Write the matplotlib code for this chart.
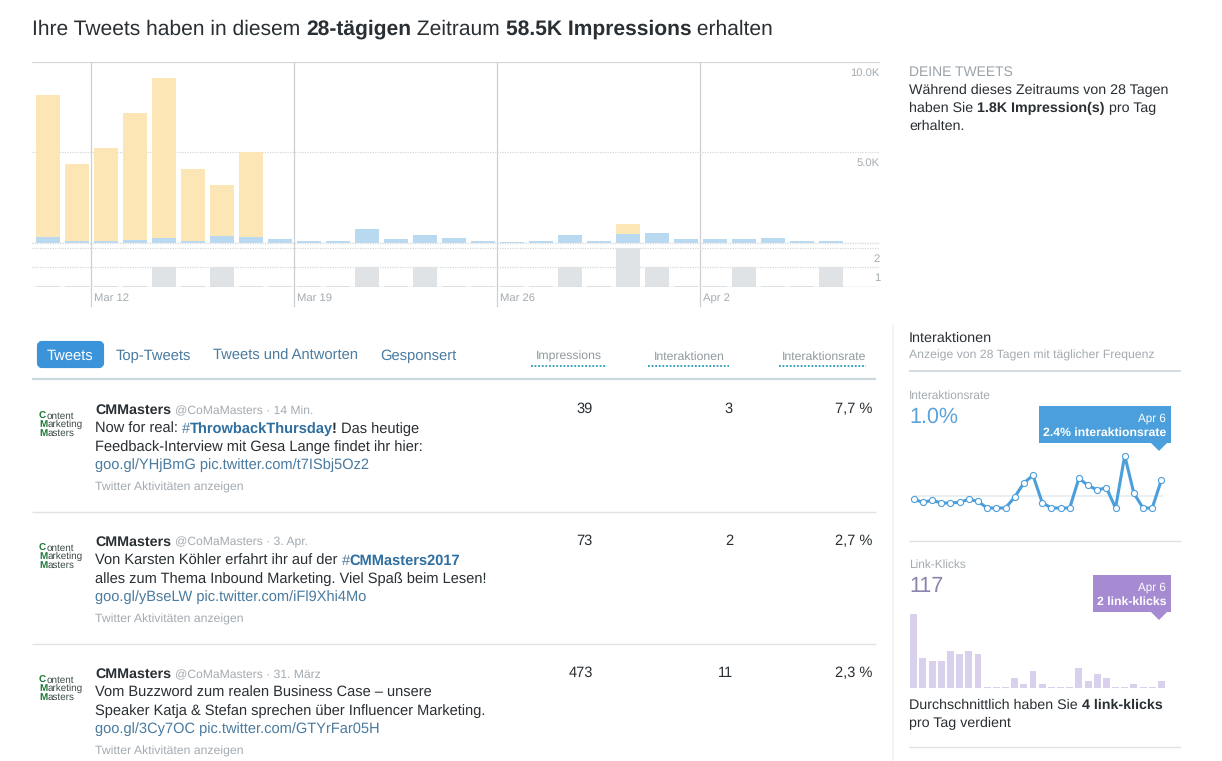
import numpy as np
import matplotlib
matplotlib.use("Agg")
import matplotlib.pyplot as plt
from matplotlib.patches import FancyBboxPatch, Polygon, Rectangle

plt.rcParams['font.family'] = ['Liberation Sans', 'DejaVu Sans']
plt.rcParams['text.hinting'] = 'none'
plt.rcParams['text.hinting_factor'] = 8

W, H = 1222, 761

# Impressions per day, in thousands (Mar 10 - Apr 6)
organic = [0.31, 0.07, 0.07, 0.13, 0.24, 0.07, 0.35, 0.30, 0.17, 0.11, 0.06, 0.74, 0.19, 0.41,
           0.24, 0.06, 0.05, 0.06, 0.39, 0.11, 0.46, 0.52, 0.19, 0.17, 0.17, 0.24, 0.11, 0.11]
paid = [7.88, 4.28, 5.17, 7.07, 8.89, 4.00, 2.83, 4.70, 0, 0, 0, 0, 0, 0,
        0, 0, 0, 0, 0, 0, 0.56, 0, 0, 0, 0, 0, 0, 0]
tweets_per_day = [0, 0, 0, 0, 1, 0, 1, 0, 0, 0, 0, 1, 0, 1,
                  0, 0, 0, 0, 1, 0, 2, 1, 0, 0, 1, 0, 0, 1]
week_labels = ['Mar 12', 'Mar 19', 'Mar 26', 'Apr 2']
week_pos = [1.5, 8.5, 15.5, 22.5]

engagement_rate = [0.74, 0.49, 0.66, 0.43, 0.43, 0.49, 0.74, 0.57, 0, 0, 0, 0.94, 2.14, 2.80,
                   0.46, 0, 0, 0, 2.54, 1.94, 1.54, 1.74, 0, 4.49, 1.26, 0, 0, 2.40]
link_clicks = [22, 9, 8, 8, 11, 10, 11, 10, 0, 0, 0, 3, 1, 5,
               1, 0, 0, 0, 6, 2, 4, 3, 0, 0, 1, 0, 0, 2]

handles = ['@CoMaMasters · 14 Min.', '@CoMaMasters · 3. Apr.', '@CoMaMasters · 31. März']
tweet_impr = ['39', '73', '473']
tweet_inter = ['3', '2', '11']
tweet_rate = ['7,7 %', '2,7 %', '2,3 %']

DARK = '#292f33'
GREY = '#a3abb1'
LINK = '#4a7ba0'
BLUE = '#4b9fdc'
PURPLE = '#a68ad2'

fig = plt.figure(figsize=(W / 100, H / 100), dpi=100, facecolor='white')
rend = fig.canvas.get_renderer()


def px_axes(x0, y0, x1, y1):
    ax = fig.add_axes([x0 / W, 1 - y1 / H, (x1 - x0) / W, (y1 - y0) / H])
    ax.patch.set_alpha(0)
    ax.axis('off')
    return ax


# overlay in pixel coordinates for the page furniture and the text
ov = px_axes(0, 0, W, H)
ov.set_xlim(0, W)
ov.set_ylim(H, 0)


def width(s, **kw):
    a = ov.text(0, 0, s + '.', **kw)
    b = ov.text(0, 0, '.', **kw)
    w = a.get_window_extent(rend).width - b.get_window_extent(rend).width
    a.remove()
    b.remove()
    return w


def runs(x, y, parts, size, color=DARK):
    # parts: plain string or (string, weight, colour)
    for p in parts:
        s, weight, col = (p, 'normal', color) if isinstance(p, str) else p
        ov.text(x, y, s, fontsize=size, fontweight=weight, color=col, va='baseline')
        x += width(s, fontsize=size, fontweight=weight)


def hline(y, x0, x1, color='#dfe3e6', lw=1.0):
    ov.plot([x0, x1], [y, y], color=color, lw=lw, solid_capstyle='butt')


# title
runs(32, 35, ['Ihre Tweets haben in diesem ', ('28-tägigen', 'bold', DARK), ' Zeitraum ',
              ('58.5K Impressions', 'bold', DARK), ' erhalten'], 15.13)

# main chart, x scale: 29 px per day, first bar centred at x=48
x = np.arange(28)
xlim = ((32 - 48) / 29, (880 - 48) / 29)
ax1 = px_axes(32, 62, 880, 242.5)
ax1.set_xlim(xlim)
ax1.set_ylim(0, 10)
ax1.bar(x, organic, width=0.83, color='#b9d9f1', zorder=3)
ax1.bar(x, paid, width=0.83, bottom=organic, color='#fce6b5', zorder=3)

ax2 = px_axes(32, 242.5, 880, 287.5)
ax2.set_xlim(xlim)
ax2.set_ylim(0, 2.25)
# zero days still show a thin stub
ax2.bar(x, np.maximum(tweets_per_day, 0.07), width=0.83, color='#dfe3e6', zorder=3)

for val, lab in [(10, '10.0K'), (5, '5.0K')]:
    ax1.axhline(val, color='#d5d8db', lw=0.9, ls=(0, (1, 1)) if val == 5 else '-', zorder=1)
    ax1.annotate(lab, (xlim[1], val), xytext=(0, -14), textcoords='offset pixels', ha='right',
                 va='baseline', fontsize=8.1, color=GREY)
ax1.axhline(0, color='#cfe2f0', lw=1.0, zorder=4)
for val in [1, 2]:
    ax2.axhline(val, color='#d5d8db', lw=0.9, ls=(0, (1, 1)), zorder=1)
    ax2.annotate(str(val), (xlim[1], val), xytext=(0, -14), textcoords='offset pixels', ha='right',
                 va='baseline', fontsize=8.1, color=GREY)
ax2.axhline(0, color='#d5d8db', lw=1.0, zorder=4)
ax2.axhline(2.25, color='#d5d8db', lw=0.9, ls=(0, (1, 1)), zorder=1)

# week separators run through both panels
for pos, lab in zip(week_pos, week_labels):
    px = 47 + 29 * pos
    ov.plot([px, px], [62, 306], color='#ccd0d4', lw=0.9, zorder=5)
    ov.text(px + 3.5, 301, lab, fontsize=8.1, color=GREY, va='baseline')

# right column, top
ov.text(909, 76, 'DEINE TWEETS', fontsize=10.0, color='#9aa3a9', va='baseline')
runs(909, 94, ['Während dieses Zeitraums von 28 Tagen'], 10.3)
runs(909, 112, ['haben Sie ', ('1.8K Impression(s)', 'bold', DARK), ' pro Tag'], 10.3)
runs(909, 130, ['erhalten.'], 10.3)

# tabs
ov.add_patch(FancyBboxPatch((39, 343), 63, 23, boxstyle='round,pad=0,rounding_size=3', mutation_aspect=1,
                            fc='#3b94d9', ec='#3b94d9', lw=3))
ov.text(70.5, 360, 'Tweets', fontsize=10.6, color='white', ha='center', va='baseline')
for tx, lab in [(116, 'Top-Tweets'), (213, 'Tweets und Antworten'), (380, 'Gesponsert')]:
    ov.text(tx, 360, lab, fontsize=10.6, color=LINK, va='baseline')
for cx, x0, x1, lab in [(569, 531, 607, 'Impressions'), (689.5, 648, 729, 'Interaktionen'),
                        (824, 779, 866, 'Interaktionsrate')]:
    ov.text(cx, 360, lab, fontsize=8.8, color='#8f999f', ha='center', va='baseline')
    ov.plot([x0, x1], [366, 366], color='#2a9ab5', lw=1.3, ls=(0, (1, 1)))
hline(379, 32, 876, color='#ccd6dd', lw=1.6)
hline(512, 32, 876)
hline(643.5, 32, 876)

# tweet rows
tweet_lines = [
    [['Now for real: ', ('#', 'normal', LINK), ('ThrowbackThursday', 'bold', '#2f6f9f'), ('!', 'bold', DARK),
      ' Das heutige'],
     ['Feedback-Interview mit Gesa Lange findet ihr hier:'],
     [('goo.gl/YHjBmG pic.twitter.com/t7ISbj5Oz2', 'normal', LINK)]],
    [['Von Karsten Köhler erfahrt ihr auf der ', ('#', 'normal', LINK), ('CMMasters2017', 'bold', '#2f6f9f')],
     ['alles zum Thema Inbound Marketing. Viel Spaß beim Lesen!'],
     [('goo.gl/yBseLW pic.twitter.com/iFl9Xhi4Mo', 'normal', LINK)]],
    [['Vom Buzzword zum realen Business Case – unsere'],
     ['Speaker Katja & Stefan sprechen über Influencer Marketing.'],
     [('goo.gl/3Cy7OC pic.twitter.com/GTYrFar05H', 'normal', LINK)]],
]
for i, y0 in enumerate([0, 132, 264]):
    runs(95, 414 + y0, [('CMMasters', 'bold', DARK)], 10.3)
    ov.text(175, 414 + y0, handles[i], fontsize=8.7, color=GREY, va='baseline')
    for j, parts in enumerate(tweet_lines[i]):
        runs(95, 433 + y0 + j * 18, parts, 10.5)
    ov.text(95, 491 + y0, 'Twitter Aktivitäten anzeigen', fontsize=8.85, color=GREY, va='baseline')
    ov.text(593, 413 + y0, tweet_impr[i], fontsize=10.5, color=DARK, ha='right', va='baseline')
    ov.text(733, 413 + y0, tweet_inter[i], fontsize=10.5, color=DARK, ha='right', va='baseline')
    ov.text(872, 413 + y0, tweet_rate[i], fontsize=10.5, color=DARK, ha='right', va='baseline')
    # logo
    for k, (first, rest) in enumerate([('C', 'ontent'), ('M', 'arketing'), ('M', 'asters')]):
        runs(39, 418.5 + y0 + k * 8.5, [(first, 'bold', '#1f7a3a'), (rest, 'normal', '#3a4a45')], 7.1)

# right column, lower
ov.plot([893, 893], [325, 761], color='#f0f2f3', lw=1.2)
ov.text(909, 342, 'Interaktionen', fontsize=10.4, color=DARK, va='baseline')
ov.text(909, 359, 'Anzeige von 28 Tagen mit täglicher Frequenz', fontsize=8.85, color=GREY, va='baseline')
hline(371, 909, 1181, color='#ccd6dd', lw=1.2)
hline(541, 909, 1181)
hline(746.5, 909, 1181)

ov.text(909, 399, 'Interaktionsrate', fontsize=8.6, color=GREY, va='baseline')
ov.text(909, 423, '1.0%', fontsize=15.5, color='#5ba3d9', va='baseline')
ov.text(909, 568, 'Link-Klicks', fontsize=8.6, color=GREY, va='baseline')
ov.text(909, 592, '117', fontsize=15.5, color='#8b85ad', va='baseline')

# sparkline scale: 9.17 px per day, first point at x=913.8
sx0, sx1 = 905, 1172
sxlim = ((sx0 - 913.8) / 9.17, (sx1 - 913.8) / 9.17)

ax3 = px_axes(sx0, 445, sx1, 508 + 6)
ax3.set_xlim(sxlim)
ax3.set_ylim(-6 / 11.67, 63 / 11.67)
ax3.axhline(1.0, xmin=(913.8 - sx0) / (sx1 - sx0), xmax=(1161.5 - sx0) / (sx1 - sx0), color='#e6ecf0', lw=1.2,
            zorder=1)
ax3.plot(x, engagement_rate, color='#4b9fdc', lw=2.2, zorder=2, solid_joinstyle='miter',
         marker='o', ms=4.4, mfc='white', mec='#4b9fdc', mew=0.8)

ax4 = px_axes(sx0, 610, sx1, 687.5)
ax4.set_xlim(sxlim)
ax4.set_ylim(0, 77.5 / 3.33)
ax4.bar(x, np.maximum(link_clicks, 0.15), width=0.76, color='#d8d0ec')

# tooltips
for (x0, y0, x1, y1, col, l1, l2) in [(1039, 406, 1171, 443, BLUE, 'Apr 6', '2.4% interaktionsrate'),
                                      (1093, 575, 1171, 612, PURPLE, 'Apr 6', '2 link-klicks')]:
    ov.add_patch(Rectangle((x0, y0), x1 - x0, y1 - y0, fc=col, ec='none', zorder=6))
    ov.add_patch(Polygon([(1151, y1), (1167, y1), (1159, y1 + 8)], fc=col, ec='none', zorder=6))
    ov.text(x1 - 5, y0 + 16, l1, fontsize=8.4, color='white', ha='right', va='baseline', zorder=7)
    ov.text(x1 - 5, y0 + 30, l2, fontsize=8.8, fontweight='bold', color='white', ha='right', va='baseline', zorder=7)

runs(909, 709, ['Durchschnittlich haben Sie ', ('4 link-klicks', 'bold', DARK)], 10.3)
runs(909, 727, ['pro Tag verdient'], 10.3)

plt.savefig('out.png', dpi=100, facecolor='white')
